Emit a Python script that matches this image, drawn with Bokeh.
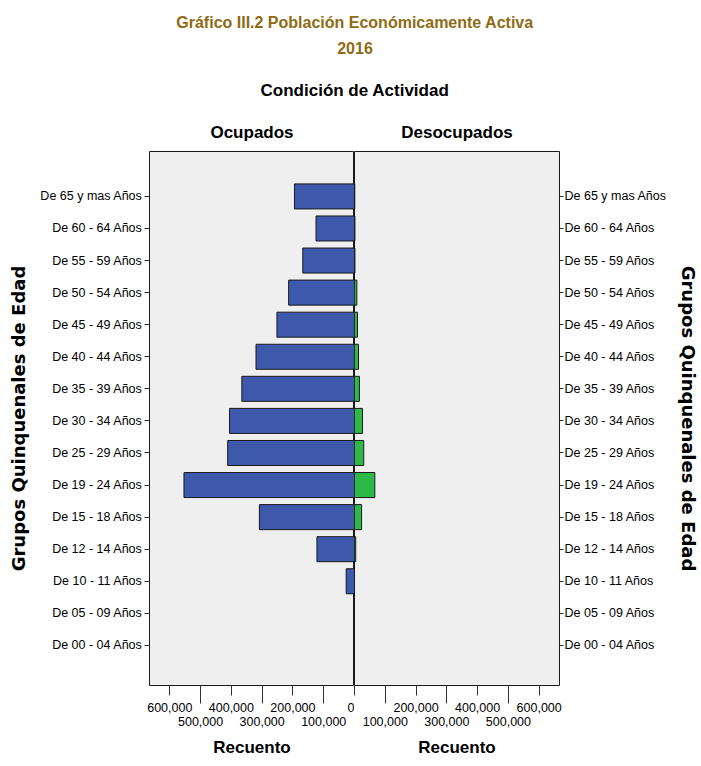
from bokeh.plotting import figure
from bokeh.layouts import column, row
from bokeh.models import Range1d, FixedTicker, Title, ColumnDataSource
from bokeh.embed import file_html
from bokeh.resources import INLINE

# ---------------- data ----------------
groups = ["De 00 - 04 Años", "De 05 - 09 Años", "De 10 - 11 Años", "De 12 - 14 Años",
          "De 15 - 18 Años", "De 19 - 24 Años", "De 25 - 29 Años", "De 30 - 34 Años",
          "De 35 - 39 Años", "De 40 - 44 Años", "De 45 - 49 Años", "De 50 - 54 Años",
          "De 55 - 59 Años", "De 60 - 64 Años", "De 65 y mas Años"]
ocupados = [0, 0, 27000, 122000, 309000, 554000, 412000, 406000, 366000,
            320000, 252000, 214000, 168000, 125000, 195000]
desocupados = [0, 0, 0, 4000, 23000, 66000, 30000, 26000, 16000,
               13000, 9700, 7600, 1500, 1500, 1000]
x_ticks = [0, 100000, 200000, 300000, 400000, 500000, 600000]
x_tick_labels = ["0", "100,000", "200,000", "300,000", "400,000", "500,000", "600,000"]

title_main = "Gráfico III.2 Población Económicamente Activa"
title_year = "2016"
title_cond = "Condición de Actividad"

# ---------------- style ----------------
NARROW = "'Liberation Sans Narrow', 'Arial Narrow', 'Liberation Sans', sans-serif"
WIDE = "'DejaVu Sans', Verdana, sans-serif"
BLUE = "#3E58AC"
GREEN = "#2DB84A"
BG = "#EFEFEF"
GOLD = "#8E6B14"
XMAX = 666000
idx = list(range(len(groups)))

src = ColumnDataSource(dict(y=idx, g=groups, ocu=ocupados, des=desocupados))


def style_common(p, label_standoff):
    p.grid.visible = False
    p.background_fill_color = BG
    p.border_fill_color = "white"
    p.outline_line_color = "#1a1a1a"
    p.outline_line_width = 1
    p.title.align = "center"
    p.title.text_font = NARROW
    p.title.text_font_size = "17px"
    p.title.text_font_style = "bold"
    p.title.text_color = "black"
    p.title.standoff = 20
    # x axis
    xa = p.xaxis[0]
    xa.axis_line_color = None
    xa.major_tick_in = 0
    xa.minor_tick_in = 0
    xa.major_tick_out = 10
    xa.minor_tick_out = 18
    xa.major_tick_line_color = "#333333"
    xa.minor_tick_line_color = "#333333"
    xa.major_label_text_font = NARROW
    xa.major_label_text_font_size = "12.5px"
    xa.major_label_text_color = "black"
    xa.major_label_text_line_height = 1.0
    xa.major_label_standoff = -3
    xa.axis_label = "Recuento"
    xa.axis_label_text_font = NARROW
    xa.axis_label_text_font_size = "17px"
    xa.axis_label_text_font_style = "bold"
    xa.axis_label_text_color = "black"
    xa.axis_label_standoff = 6
    # y axis
    ya = p.yaxis[0]
    ya.ticker = FixedTicker(ticks=idx)
    ya.major_label_overrides = {i: g for i, g in zip(idx, groups)}
    ya.axis_line_color = None
    ya.major_tick_in = 0
    ya.major_tick_out = 5
    ya.minor_tick_out = 0
    ya.minor_tick_in = 0
    ya.major_tick_line_color = "#333333"
    ya.major_label_text_font = NARROW
    ya.major_label_text_font_size = "12.5px"
    ya.major_label_text_color = "black"
    ya.major_label_standoff = 2
    ya.axis_label = "Grupos Quinquenales de Edad"
    ya.axis_label_text_font = WIDE
    ya.axis_label_text_font_size = "18px"
    ya.axis_label_text_font_style = "bold"
    ya.axis_label_text_color = "black"
    ya.axis_label_standoff = label_standoff


Y_RANGE = (-1.25, 15.40)

# ---------------- top titles ----------------
top = figure(width=701, height=110, x_range=Range1d(0, 1), y_range=Range1d(0, 1),
             x_axis_type=None, y_axis_type=None, toolbar_location=None,
             output_backend="svg", min_border_left=8, min_border_right=0,
             min_border_top=60, min_border_bottom=32, outline_line_color=None)
top.grid.visible = False
top.title.visible = False
top.add_layout(Title(text=title_year, align="center", text_font=NARROW, text_font_size="16px",
                     text_font_style="bold", text_color=GOLD, standoff=14), "above")
top.add_layout(Title(text=title_main, align="center", text_font=NARROW, text_font_size="16px",
                     text_font_style="bold", text_color=GOLD, standoff=3), "above")
top.add_layout(Title(text=title_cond, align="center", text_font=NARROW, text_font_size="17px",
                     text_font_style="bold", text_color="black", standoff=0), "below")

# ---------------- left: Ocupados ----------------
left = figure(width=354, height=655, title="Ocupados",
              x_range=Range1d(XMAX, 0), y_range=Range1d(*Y_RANGE),
              toolbar_location=None, output_backend="svg",
              min_border_left=149, min_border_right=0, min_border_top=41,
              min_border_bottom=80)
style_common(left, 8)
left.xaxis[0].ticker = FixedTicker(ticks=x_ticks, minor_ticks=x_ticks[1::2])
left.xaxis[0].major_label_overrides = {
    t: ("\n" + lab if i % 2 else lab) for i, (t, lab) in enumerate(zip(x_ticks, x_tick_labels))}
left.hbar(y="y", left=0, right="ocu", height=0.78, source=src,
          fill_color=BLUE, line_color="#1a1a1a", line_width=1)

# ---------------- right: Desocupados ----------------
right = figure(width=347, height=655, title="Desocupados",
               x_range=Range1d(0, XMAX), y_range=left.y_range,
               y_axis_location="right",
               toolbar_location=None, output_backend="svg",
               min_border_left=0, min_border_right=142, min_border_top=41,
               min_border_bottom=80)
style_common(right, 8)
right.yaxis[0].major_tick_out = 4
right.yaxis[0].major_label_standoff = 1
right.xaxis[0].ticker = FixedTicker(ticks=x_ticks, minor_ticks=x_ticks[1::2])
right.xaxis[0].major_label_overrides = {
    t: ("" if i == 0 else ("\n" + lab if i % 2 else lab))
    for i, (t, lab) in enumerate(zip(x_ticks, x_tick_labels))}
right.hbar(y="y", left=0, right="des", height=0.78, source=src,
           fill_color=GREEN, line_color="#1a1a1a", line_width=1)

layout = column(top, row(left, right))
open("out.html", "w").write(file_html(layout, INLINE))
